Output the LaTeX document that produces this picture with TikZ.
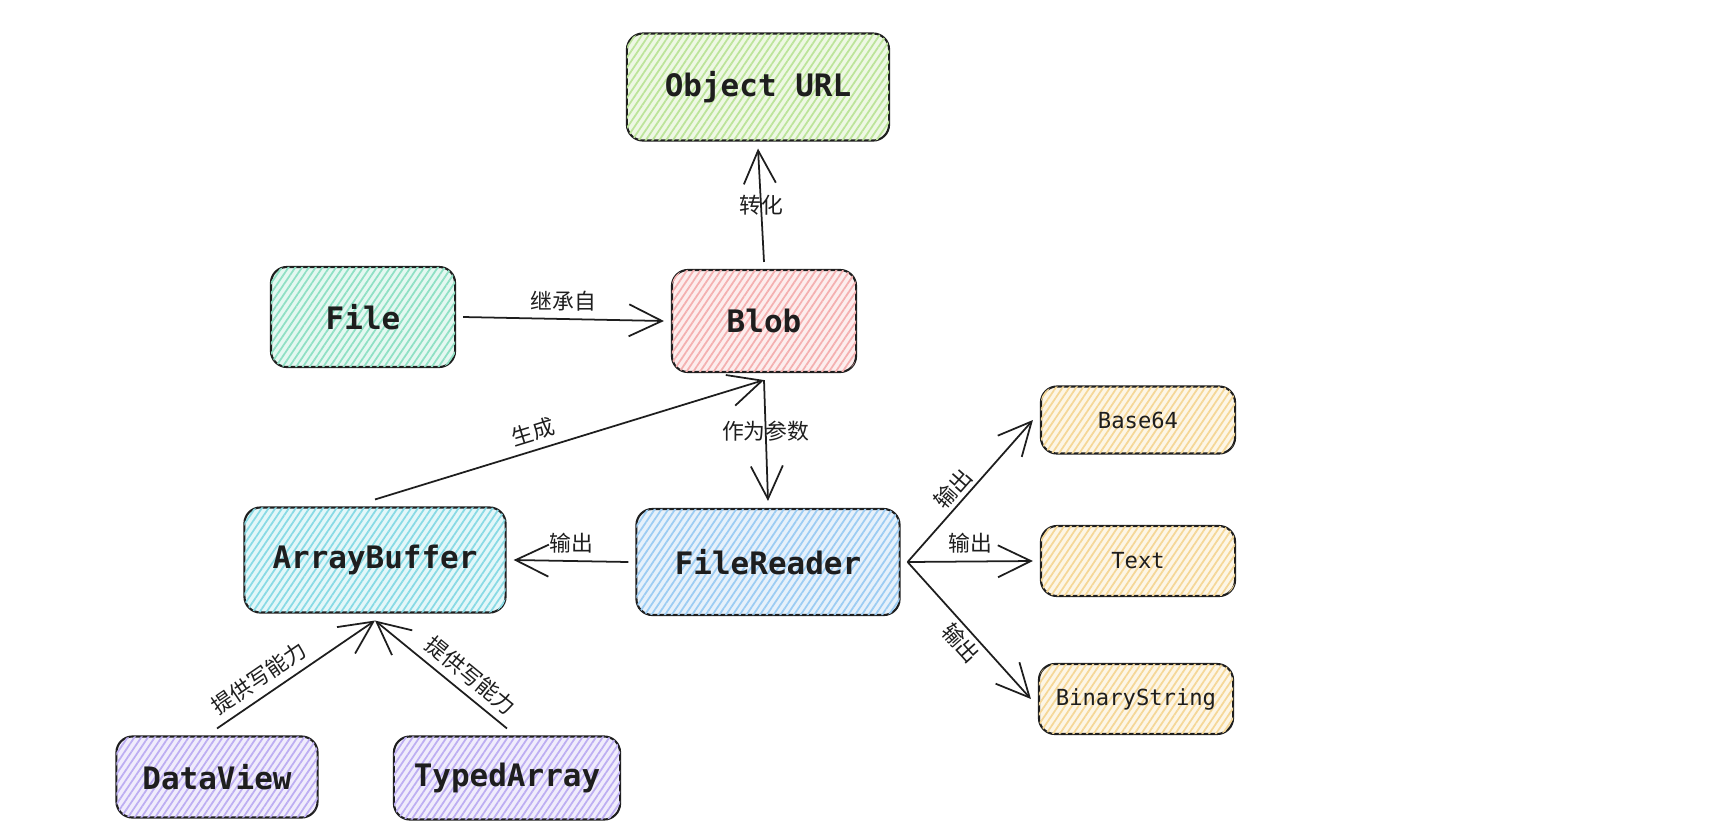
\documentclass[tikz,border=0pt]{standalone}
\usepackage{fontspec}
\setmonofont{DejaVu Sans Mono}
\newfontfamily\cjk{Noto Sans CJK SC}
\usetikzlibrary{arrows.meta,patterns.meta}

\definecolor{inkline}{HTML}{1E1E1E}
\definecolor{urlfill}{HTML}{EEF8E4}
\definecolor{urlhatch}{HTML}{BCE49A}
\definecolor{filefill}{HTML}{E4F8F1}
\definecolor{filehatch}{HTML}{8FE0C4}
\definecolor{blobfill}{HTML}{FDEDED}
\definecolor{blobhatch}{HTML}{F4B0B0}
\definecolor{buffill}{HTML}{E3F7F9}
\definecolor{bufhatch}{HTML}{88DAE5}
\definecolor{readfill}{HTML}{E6F1FB}
\definecolor{readhatch}{HTML}{9CCCF3}
\definecolor{outfill}{HTML}{FDF6E6}
\definecolor{outhatch}{HTML}{F5D797}
\definecolor{viewfill}{HTML}{F0ECFC}
\definecolor{viewhatch}{HTML}{BDAEF2}

\begin{document}
\begin{tikzpicture}[x=0.01cm,y=-0.01cm,
    card/.style={draw=inkline, line width=0.6pt, rounded corners=0.16cm,
        outer sep=0.08cm, text=inkline,
        font=\ttfamily\bfseries\fontsize{8.8}{10}\selectfont},
    smallcard/.style={card, font=\ttfamily\fontsize{6.3}{8}\selectfont},
    tint/.style 2 args={fill=#1, postaction={pattern color=#2,
        pattern={Lines[angle=56,distance=1.6pt,line width=0.5pt]}}},
    arr/.style={draw=inkline, line width=0.5pt,
        -{Straight Barb[length=3.3mm,width=3.2mm,line width=0.5pt]}},
    lbl/.style={font=\cjk\fontsize{6.2}{7}\selectfont, text=inkline, inner sep=2pt}]

\useasboundingbox (0,0) rectangle (1730,836);

% ===== Boxes =====
\node[card, tint={urlfill}{urlhatch}, minimum width=2.62cm, minimum height=1.07cm] (ourl) at (758,87) {Object URL};

\node[card, tint={filefill}{filehatch}, minimum width=1.84cm, minimum height=1.0cm] (file) at (363,317) {File};
\node[card, tint={blobfill}{blobhatch}, minimum width=1.84cm, minimum height=1.02cm] (blob) at (764,321) {Blob};

\node[card, tint={buffill}{bufhatch}, minimum width=2.61cm, minimum height=1.05cm] (abuf) at (375,560) {ArrayBuffer};
\node[card, tint={readfill}{readhatch}, minimum width=2.63cm, minimum height=1.06cm] (freader) at (768,562) {FileReader};

\node[smallcard, tint={outfill}{outhatch}, minimum width=1.94cm, minimum height=0.67cm] (b64) at (1138,420) {Base64};
\node[smallcard, tint={outfill}{outhatch}, minimum width=1.94cm, minimum height=0.70cm] (txt) at (1138,561) {Text};
\node[smallcard, tint={outfill}{outhatch}, minimum width=1.94cm, minimum height=0.70cm] (bstr) at (1136,699) {BinaryString};

\node[card, tint={viewfill}{viewhatch}, minimum width=2.01cm, minimum height=0.81cm] (dview) at (217,777) {DataView};
\node[card, tint={viewfill}{viewhatch}, minimum width=2.26cm, minimum height=0.83cm] (tarr) at (507,778) {TypedArray};

% ===== Arrows =====
\draw[arr] (blob.north) -- node[lbl] {转化} (ourl.south);
\draw[arr] (file.east) -- node[lbl, above] {继承自} (blob.west);
\draw[arr] (abuf.north) -- node[lbl, sloped, above, pos=0.42] {生成} (blob.south);
\draw[arr] (blob.south) -- node[lbl, pos=0.42] {作为参数} (freader.north);
\draw[arr] (freader.west) -- node[lbl, above] {输出} (abuf.east);

% FileReader outputs
\draw[arr] (freader.east) -- node[lbl, sloped, above, pos=0.45, inner sep=1pt] {输出} (b64.west);
\draw[arr] (freader.east) -- node[lbl, above] {输出} (txt.west);
\draw[arr] (freader.east) -- node[lbl, sloped, below, pos=0.52, inner sep=1pt] {输出} (bstr.west);

% write access
\draw[arr] (dview.north) -- node[lbl, sloped, above, pos=0.33] {提供写能力} (abuf.south);
\draw[arr] (tarr.north) -- node[lbl, sloped, above, pos=0.36] {提供写能力} (abuf.south);

\end{tikzpicture}
\end{document}
